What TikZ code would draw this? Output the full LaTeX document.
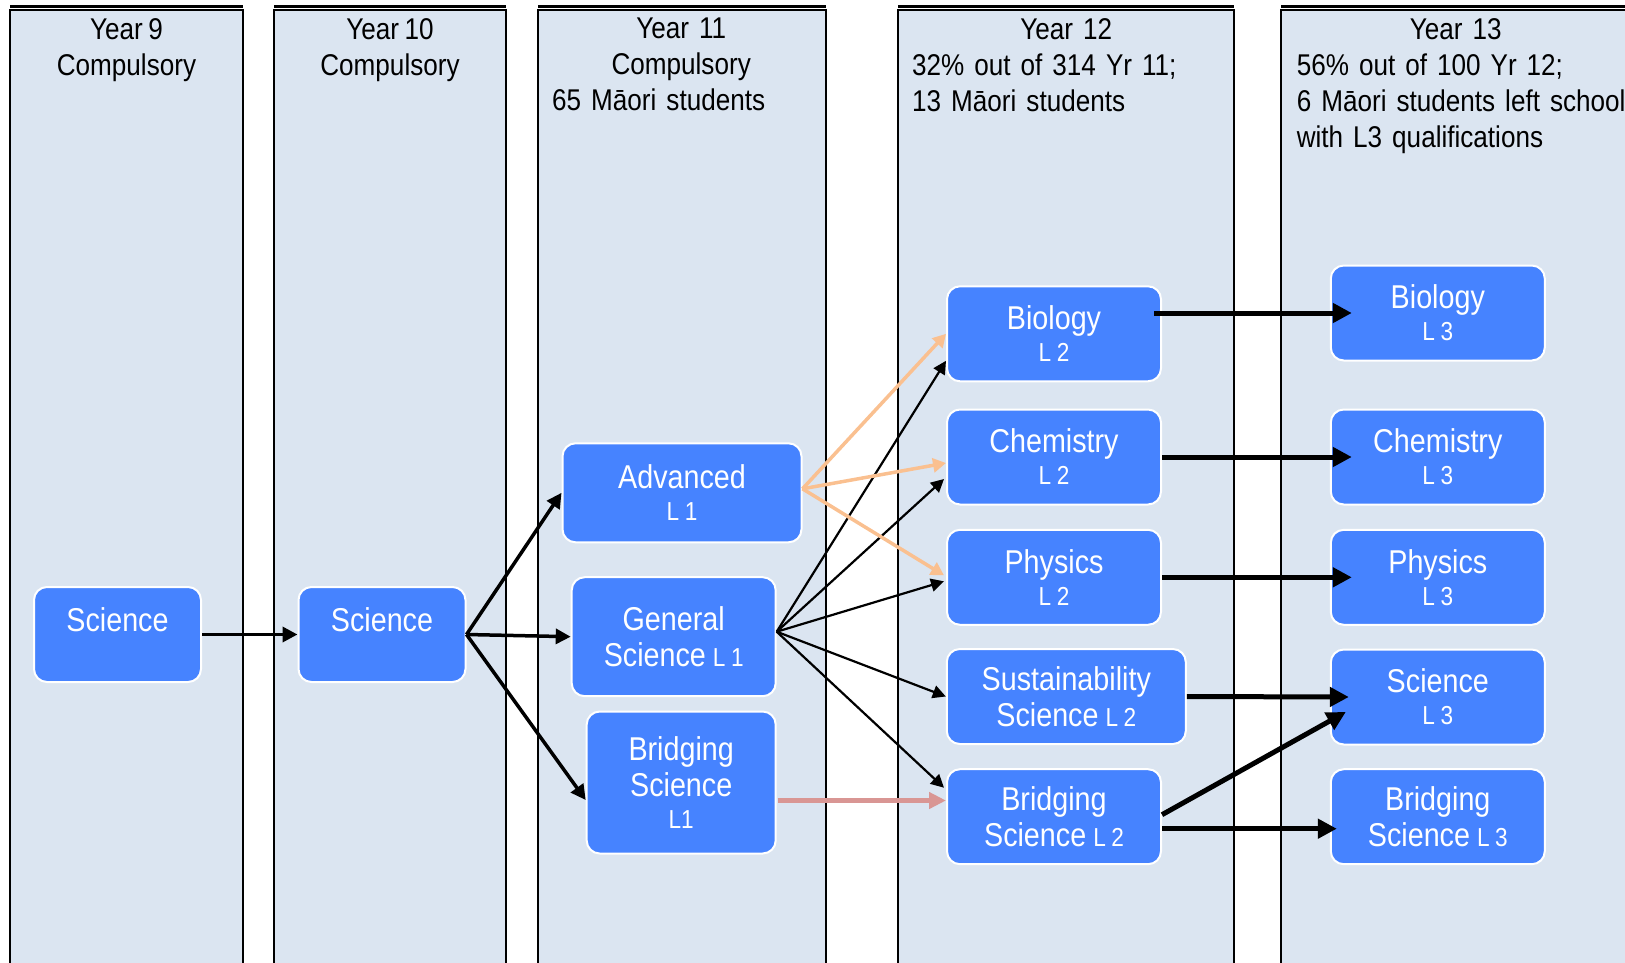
\documentclass[tikz,border=0pt]{standalone}
\usepackage{fontspec}
\setmainfont{Liberation Sans}[FakeStretch=0.87]
\usetikzlibrary{arrows.meta, calc}
\definecolor{colfill}{HTML}{DBE5F1}
\definecolor{boxblue}{HTML}{4683FF}
\definecolor{peach}{HTML}{FAC090}
\definecolor{rose}{HTML}{D99694}
\newcommand{\hdfont}{\fontsize{30}{36}\selectfont\fontdimen2\font=5.5pt\relax}
\newcommand{\boxfont}{\fontsize{33}{36}\selectfont\fontdimen2\font=7pt\relax}
\newcommand{\lv}[1]{{\fontsize{26}{30}\selectfont\fontdimen2\font=5.5pt\relax #1}}
\newcommand{\lft}[1]{\makebox[\hsize][l]{#1}}

\begin{document}
\begin{tikzpicture}[x=1pt, y=-1pt,
    course/.style={draw=white, line width=2pt, fill=boxblue, rounded corners=13pt, text=white,
      align=center, inner sep=0pt, font=\boxfont},
    yearhead/.style={anchor=north, inner sep=0pt, align=center, font=\hdfont},
    bigarr/.style={line width=5pt, -{Triangle[length=19pt, width=19pt]}},
    midarr/.style={line width=3.5pt, -{Triangle[length=15pt, width=15pt]}},
    thinarr/.style={line width=2.2pt, -{Triangle[length=13pt, width=13pt]}},
    peacharr/.style={peach, line width=3.5pt, -{Triangle[length=13pt, width=14pt]}},
    rosearr/.style={rose, line width=5pt, -{Triangle[length=17pt, width=16pt]}}]
  \useasboundingbox (0,0) rectangle (1625,962);

  \foreach \xa/\xb in {10/243, 274/506, 538/826, 898/1234, 1281/1640} {
    \fill[colfill] (\xa,10) rectangle (\xb,970);
    \draw[line width=1.5pt] (\xa,970) -- (\xa,10) -- (\xb,10) -- (\xb,970);
    \draw[line width=2.5pt] (\xa,6.5) -- (\xb,6.5);
  }

  \node[yearhead] (y9) at (126.5,18) {Year 9\\Compulsory};
  \node[yearhead] (y10) at (390,18) {Year 10\\Compulsory};
  \node[yearhead, anchor=north west, text width=258pt] (y11) at (552,18)
    {Year 11\\Compulsory\\\lft{65 Māori students}};
  \node[yearhead, anchor=north west, text width=308pt] (y12) at (912,18)
    {Year 12\\\lft{32\% out of 314 Yr 11;}\\\lft{13 Māori students}};
  \node[yearhead, anchor=north west, text width=318pt] (y13) at (1296.6,18)
    {Year 13\\\lft{56\% out of 100 Yr 12;}\\\lft{6 Māori students left school}\\\lft{with L3 qualifications}};

  \node[course, minimum width=167pt, minimum height=95pt] (sci9) at (117.5,634.5) {Science\\[-7pt]~};
  \node[course, minimum width=167pt, minimum height=95pt] (sci10) at (382,634.5) {Science\\[-7pt]~};

  \node[course, minimum width=239pt, minimum height=99pt] (adv) at (682,492.8) {Advanced\\[-4pt]\lv{L 1}};
  \node[course, minimum width=204pt, minimum height=119pt] (gen) at (673.7,636.7) {General\\Science \lv{L 1}};
  \node[course, minimum width=189pt, minimum height=142pt] (bri1) at (681.2,782.5) {Bridging\\Science\\[-4pt]\lv{L1}};

  \node[course, minimum width=214pt, minimum height=95pt] (bio2) at (1054,333.8) {Biology\\[-4pt]\lv{L 2}};
  \node[course, minimum width=214pt, minimum height=95pt] (chem2) at (1054,457) {Chemistry\\[-4pt]\lv{L 2}};
  \node[course, minimum width=214pt, minimum height=95pt] (phys2) at (1054,577.3) {Physics\\[-4pt]\lv{L 2}};
  \node[course, minimum width=239pt, minimum height=95pt] (sust) at (1066.3,696.5) {Sustainability\\Science \lv{L 2}};
  \node[course, minimum width=214pt, minimum height=95pt] (bri2) at (1054,816.7) {Bridging\\Science \lv{L 2}};

  \node[course, minimum width=214pt, minimum height=95pt] (bio3) at (1437.8,313) {Biology\\[-4pt]\lv{L 3}};
  \node[course, minimum width=214pt, minimum height=95pt] (chem3) at (1437.8,457) {Chemistry\\[-4pt]\lv{L 3}};
  \node[course, minimum width=214pt, minimum height=95pt] (phys3) at (1437.8,577.3) {Physics\\[-4pt]\lv{L 3}};
  \node[course, minimum width=214pt, minimum height=95pt] (sci3) at (1437.8,697) {Science\\[-4pt]\lv{L 3}};
  \node[course, minimum width=214pt, minimum height=95pt] (bri3) at (1437.8,816.7) {Bridging\\Science \lv{L 3}};

  \draw[midarr] (sci9) -- (sci10);
  \draw[midarr] (sci10.east) -- (adv.west);
  \draw[midarr] (sci10.east) -- (gen.west);
  \draw[midarr] (sci10.east) -- ($(bri1.west)+(0,17.5)$);

  \coordinate (fan) at ($(gen.east)+(0,-5)$);
  \draw[thinarr] (fan) -- ($(bio2.west)+(0,27)$);
  \draw[thinarr] (fan) -- ($(chem2.west)+(-2,22)$);
  \draw[thinarr] (fan) -- ($(phys2.west)+(-2,4)$);
  \draw[thinarr] (fan) -- (sust.west);
  \draw[thinarr] (fan) -- ($(bri2.west)+(-2,-29)$);

  \coordinate (afan) at ($(adv.east)+(0,-4)$);
  \draw[peacharr] (afan) -- (bio2.west);
  \draw[peacharr] (afan) -- ($(chem2.west)+(0,6)$);
  \draw[peacharr] (afan) -- ($(phys2.west)+(-2,-2)$);

  \coordinate (rs) at ($(bri1.east)+(1,18)$);
  \draw[rosearr] (rs) -- (bri2.west |- rs);

  \draw[bigarr] ($(bio2.east |- bio3.west)+(-8,0)$) -- ($(bio3.west)+(22,0)$);
  \draw[bigarr] (chem2.east) -- ($(chem3.west)+(22,0)$);
  \draw[bigarr] (phys2.east) -- ($(phys3.west)+(22,0)$);
  \draw[bigarr] (sust.east) -- ($(sci3.west)+(19,0)$);
  \draw[bigarr] ($(bri2.east)+(0,-2)$) -- ($(sci3.west)+(16,15)$);
  \coordinate (b2) at ($(bri2.east)+(0,12)$);
  \draw[bigarr] (b2) -- ($(bri3.west |- b2)+(7,0)$);
\end{tikzpicture}
\end{document}
